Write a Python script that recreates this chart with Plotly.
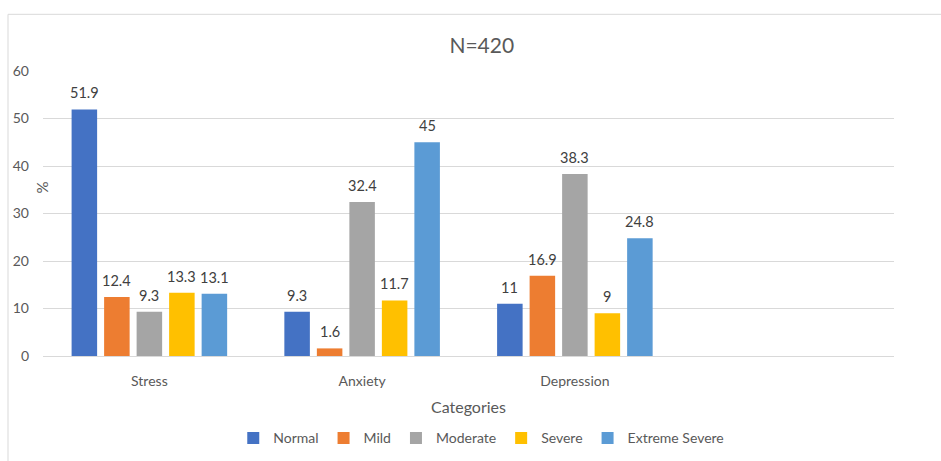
import plotly.graph_objects as go

# Percentages of respondents (N=420) by severity level
categories = ["Stress", "Anxiety", "Depression"]
levels = ["Normal", "Mild", "Moderate", "Severe", "Extreme Severe"]
normal = [51.9, 9.3, 11]
mild = [12.4, 1.6, 16.9]
moderate = [9.3, 32.4, 38.3]
severe = [13.3, 11.7, 9]
extreme_severe = [13.1, 45, 24.8]
y_ticks = [0, 10, 20, 30, 40, 50, 60]

series = [normal, mild, moderate, severe, extreme_severe]
colors = ["#4472C4", "#ED7D31", "#A5A5A5", "#FFC000", "#5B9BD5"]

FONT = "Lato, 'Open Sans', sans-serif"
TXT = "#595959"
LBL = "#404040"
GRID = "#D9D9D9"
BARGAP = 0.236
GROUPGAP = 0.215

fig = go.Figure()
for name, vals, col in zip(levels, series, colors):
    fig.add_trace(go.Bar(
        x=categories, y=vals, name=name,
        marker=dict(color=col, line=dict(width=0)),
    ))

# Value labels above each bar, placed at the bar's own group offset
n = len(levels)
slot = (1 - BARGAP) / n
annotations = []
for j, vals in enumerate(series):
    off = -(1 - BARGAP) / 2 + (j + 0.5) * slot
    for i, v in enumerate(vals):
        annotations.append(dict(
            x=i + off, y=v, xref="x", yref="y",
            text=f"{v:g}", showarrow=False, yanchor="bottom", yshift=6,
            font=dict(family=FONT, size=14.5, color=LBL),
        ))

# y-axis title
annotations.append(dict(
    x=-0.001, y=0.592, xref="paper", yref="paper", text="%",
    textangle=-90, showarrow=False, xanchor="center", yanchor="middle",
    font=dict(family=FONT, size=15, color=TXT),
))

# x-axis title
annotations.append(dict(
    x=0.5, y=(355.7 - 406) / 285, xref="paper", yref="paper", text="Categories",
    showarrow=False, xanchor="center", yanchor="middle",
    font=dict(family=FONT, size=16, color=TXT),
))

fig.update_layout(
    width=941, height=461,
    margin=dict(l=43, r=47, t=71, b=105, autoexpand=False),
    paper_bgcolor="white", plot_bgcolor="white",
    font=dict(family=FONT, size=14, color=TXT),
    title=dict(text="N=420", x=0.512, xanchor="center", y=0.902, yanchor="middle",
               font=dict(family=FONT, size=21, color=TXT)),
    barmode="group", bargap=BARGAP, bargroupgap=GROUPGAP,
    showlegend=True,
    legend=dict(orientation="h", x=0.515, xanchor="center", y=(355.7 - 438) / 285,
                yanchor="middle",
                font=dict(family=FONT, size=14, color=TXT),
                itemwidth=30, traceorder="normal"),
    annotations=annotations,
    shapes=[dict(type="rect", xref="paper", yref="paper",
                 x0=(8 - 43) / 851, x1=1.2, y0=-0.5, y1=(355.7 - 14) / 285,
                 line=dict(color=GRID, width=1), fillcolor="rgba(0,0,0,0)", layer="below")],
)

fig.update_xaxes(
    type="category", categoryorder="array", categoryarray=categories,
    range=[-0.5, 3.5], showgrid=False, showline=False, zeroline=False,
    ticks="", ticklabelstandoff=15, automargin=False,
    tickfont=dict(family=FONT, size=14, color=TXT),
)
fig.update_yaxes(
    range=[0, 60], tickvals=y_ticks, showgrid=True, gridcolor=GRID, gridwidth=1,
    zeroline=True, zerolinecolor=GRID, zerolinewidth=1, showline=False,
    ticks="", ticklabelstandoff=13, automargin=False,
    tickfont=dict(family=FONT, size=14, color=TXT),
)

fig.write_html("out.html")
